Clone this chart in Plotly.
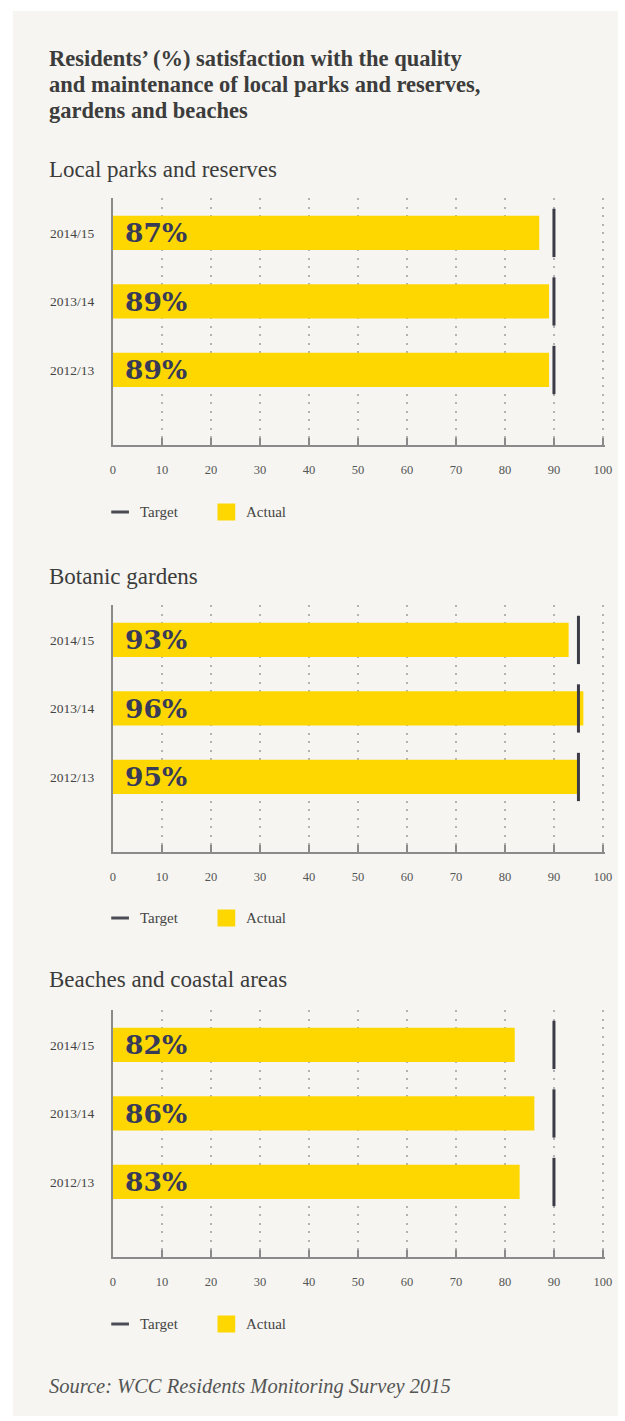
import plotly.graph_objects as go

W, H = 625, 1421

# ---- data -------------------------------------------------------------
years = ["2012/13", "2013/14", "2014/15"]
panel_titles = ["Local parks and reserves", "Botanic gardens", "Beaches and coastal areas"]
parks_actual = [89, 89, 87]
parks_target = [90, 90, 90]
gardens_actual = [95, 96, 93]
gardens_target = [95, 95, 95]
beaches_actual = [83, 86, 82]
beaches_target = [90, 90, 90]
x_ticks = list(range(0, 101, 10))

title_lines = [
    "Residents’ (%) satisfaction with the quality",
    "and maintenance of local parks and reserves,",
    "gardens and beaches",
]
source_text = "Source: WCC Residents Monitoring Survey 2015"

panels = [
    (panel_titles[0], parks_actual, parks_target),
    (panel_titles[1], gardens_actual, gardens_target),
    (panel_titles[2], beaches_actual, beaches_target),
]

# ---- styling ----------------------------------------------------------
CARD = "#f6f5f1"
YELLOW = "#ffd700"
TARGET = "#3a3b46"
VALUE_TXT = "#373b58"
AXIS = "#8a8a8a"
GRID = "#b3b3b3"
TEXT = "#3c3c3c"
SERIF = "Liberation Serif, DejaVu Serif, serif"
VALUE_FONT = "DejaVu Serif, serif"

# pixel layout of each panel (plot top / bottom, heading, legend row)
plot_tops = [198, 605, 1010]
plot_h = 247
heading_y = [170, 576, 979]
legend_y = [512, 918, 1324]
x_left, x_right = 111.7, 611.7


def py(y):
    return 1 - y / H


def px(x):
    return x / W


fig = go.Figure()
annotations = []
shapes = [
    dict(type="rect", xref="paper", yref="paper",
         x0=px(10), x1=1, y0=py(1416), y1=py(11),
         fillcolor=CARD, line=dict(width=0), layer="below"),
]

for i, (name, actual, target) in enumerate(panels):
    n = "" if i == 0 else str(i + 1)
    xa, ya = "x" + n, "y" + n

    fig.add_trace(go.Bar(
        x=actual, y=years, orientation="h", width=0.5,
        marker=dict(color=YELLOW, line=dict(width=0)),
        xaxis=xa, yaxis=ya, showlegend=False, hoverinfo="x+y",
    ))
    fig.add_trace(go.Scatter(
        x=target, y=years, mode="markers",
        marker=dict(symbol="line-ns-open", size=34.5, color=TARGET,
                    line=dict(color=TARGET, width=3)),
        xaxis=xa, yaxis=ya, showlegend=False, hoverinfo="x+y",
    ))

    for yr, v in zip(years, actual):
        annotations.append(dict(
            x=0, y=yr, xref=xa, yref=ya, xanchor="left", yanchor="middle",
            xshift=10, text=f"<b>{v}%</b>", showarrow=False,
            font=dict(family=VALUE_FONT, size=26.5, color=VALUE_TXT),
        ))

    top = plot_tops[i]
    fig.layout["xaxis" + n] = dict(
        domain=[px(x_left), px(x_right)], anchor=ya,
        range=[0, 100.4], tickvals=x_ticks, ticktext=[str(t) for t in x_ticks],
        showgrid=True, gridcolor=GRID, gridwidth=2, griddash="2px,6.5px",
        showline=True, linecolor=AXIS, linewidth=2,
        ticks="inside", ticklen=7, tickwidth=2, tickcolor=AXIS,
        ticklabelstandoff=12,
        tickfont=dict(family=SERIF, size=12.5, color="#555555"),
        zeroline=False, fixedrange=True,
    )
    fig.layout["yaxis" + n] = dict(
        domain=[py(top + plot_h), py(top)], anchor=xa,
        range=[-1.095, 2.51], type="category",
        showgrid=False, showline=True, linecolor=AXIS, linewidth=2,
        ticks="", ticklabelstandoff=14,
        tickfont=dict(family=SERIF, size=13.5, color="#444444"),
        zeroline=False, fixedrange=True,
    )

    annotations.append(dict(
        x=px(45), y=py(heading_y[i]), xref="paper", yref="paper",
        xanchor="left", yanchor="middle", text=name, showarrow=False,
        font=dict(family=SERIF, size=23, color=TEXT),
    ))

    # legend row
    ly = py(legend_y[i])
    shapes.append(dict(type="line", xref="paper", yref="paper",
                       x0=px(110), x1=px(128), y0=ly, y1=ly,
                       line=dict(color="#4a4b55", width=3)))
    annotations.append(dict(
        x=px(137), y=ly, xref="paper", yref="paper", xanchor="left",
        yanchor="middle", text="Target", showarrow=False,
        font=dict(family=SERIF, size=15, color="#444444"),
    ))
    shapes.append(dict(type="rect", xref="paper", yref="paper",
                       x0=px(218), x1=px(236), y0=py(legend_y[i] + 8.5),
                       y1=py(legend_y[i] - 8.5),
                       fillcolor=YELLOW, line=dict(width=0)))
    annotations.append(dict(
        x=px(245), y=ly, xref="paper", yref="paper", xanchor="left",
        yanchor="middle", text="Actual", showarrow=False,
        font=dict(family=SERIF, size=15, color="#444444"),
    ))

# main title
for k, line in enumerate(title_lines):
    annotations.append(dict(
        x=px(45), y=py(59 + k * 25.5), xref="paper", yref="paper",
        xanchor="left", yanchor="middle", text=f"<b>{line}</b>",
        showarrow=False, font=dict(family=SERIF, size=22.5, color=TEXT),
    ))

annotations.append(dict(
    x=px(45), y=py(1386), xref="paper", yref="paper",
    xanchor="left", yanchor="middle", text=f"<i>{source_text}</i>",
    showarrow=False, font=dict(family=SERIF, size=20.5, color="#555555"),
))

fig.update_layout(
    width=W, height=H, autosize=False,
    margin=dict(l=0, r=0, t=0, b=0),
    paper_bgcolor="white", plot_bgcolor="rgba(0,0,0,0)",
    shapes=shapes, annotations=annotations,
    bargap=0.5, showlegend=False,
)

fig.write_html("out.html", config={"displayModeBar": False})
